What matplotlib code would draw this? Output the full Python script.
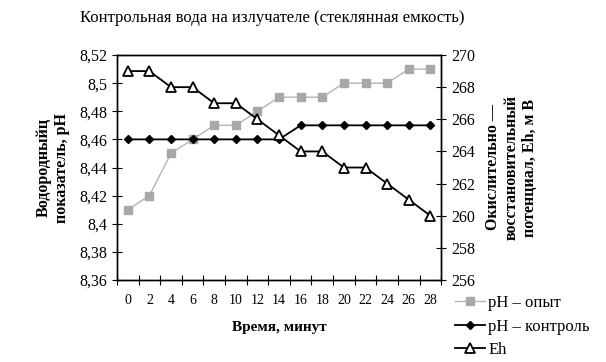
import numpy as np
import matplotlib
matplotlib.use("Agg")
import matplotlib.pyplot as plt
from matplotlib.ticker import FuncFormatter

plt.rcParams['font.family'] = ['Liberation Serif', 'DejaVu Serif']

# data
minutes = [0, 2, 4, 6, 8, 10, 12, 14, 16, 18, 20, 22, 24, 26, 28]
ph_test = [8.41, 8.42, 8.45, 8.46, 8.47, 8.47, 8.48, 8.49, 8.49, 8.49, 8.50, 8.50, 8.50, 8.51, 8.51]
ph_control = [8.46, 8.46, 8.46, 8.46, 8.46, 8.46, 8.46, 8.46, 8.47, 8.47, 8.47, 8.47, 8.47, 8.47, 8.47]
eh = [269, 269, 268, 268, 267, 267, 266, 265, 264, 264, 263, 263, 262, 261, 260]

title = "Контрольная вода на излучателе (стеклянная емкость)"
left_label = "Водородныйц\nпоказатель, рН"
right_label = "Окислительно —\nвосстановительный\nпотенциал, Eh, м В"
x_label = "Время, минут"
names = ["pH – опыт", "pH – контроль", "Eh"]


def comma(v, pos):
    return ('%g' % round(v, 2)).replace('.', ',')


fig, ax = plt.subplots(figsize=(6.06, 3.62), dpi=100)
fig.subplots_adjust(left=0.193, right=0.728, top=0.848, bottom=0.2265)
ax2 = ax.twinx()

x = np.arange(len(minutes))
l1, = ax.plot(x, ph_test, color='#b4b4b4', lw=1, marker='s', ms=5.5,
              mfc='#a8a8a8', mec='#a8a8a8')
l2, = ax.plot(x, ph_control, color='black', lw=1.3, marker='D', ms=4.5,
              mfc='black', mec='black')
l3, = ax2.plot(x, eh, color='black', lw=1.3, marker='^', ms=7,
               mfc='white', mec='black', mew=1.3)

ax.set_xlim(-0.5, len(minutes) - 0.5)
ax.set_ylim(8.36, 8.52)
ax.set_yticks(np.arange(8.36, 8.5201, 0.02))
ax.yaxis.set_major_formatter(FuncFormatter(comma))
ax2.set_ylim(256, 270)
ax2.set_yticks(np.arange(256, 271, 2))

# category axis: ticks between categories, labels at centres
ax.set_xticks(np.arange(-0.5, len(minutes), 1))
ax.set_xticklabels([])
ax.set_xticks(x, minor=True)
ax.set_xticklabels([str(m) for m in minutes], minor=True)
ax.tick_params(axis='x', which='minor', length=0, pad=10)
ax.tick_params(axis='x', which='major', direction='inout', length=7)
ax.tick_params(axis='y', direction='inout', length=7)
ax2.tick_params(axis='y', direction='inout', length=7)
for a in (ax, ax2):
    a.tick_params(labelsize=11.5)
    for s in a.spines.values():
        s.set_linewidth(1.0)

ax.set_xlabel(x_label, fontsize=11, fontweight='bold', labelpad=10)
ax.set_ylabel(left_label, fontsize=11.5, fontweight='bold', labelpad=10)
ax2.set_ylabel(right_label, fontsize=11.5, fontweight='bold', rotation=90, labelpad=12)
ax2.yaxis.set_label_coords(1.136, 0.5)
ax.yaxis.set_label_coords(-0.145, 0.5)

fig.text(0.45, 0.95, title, fontsize=12, ha='center', va='center')

fig.legend([l1, l2, l3], names, loc='upper left', bbox_to_anchor=(0.737, 0.208),
           frameon=False, fontsize=12, handlelength=1.8, handletextpad=0.2,
           labelspacing=0.45, borderpad=0)

fig.savefig("out.png", dpi=100)
